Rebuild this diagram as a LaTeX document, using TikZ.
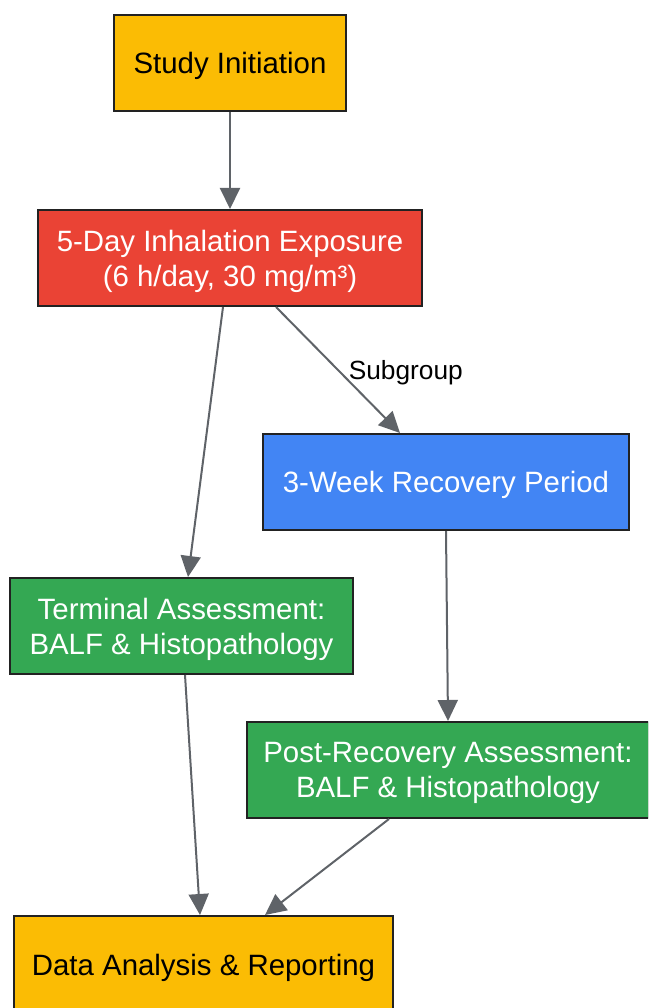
\documentclass[tikz,border=0pt]{standalone}
\usepackage{fontspec}
\setmainfont{Liberation Sans}
\usetikzlibrary{arrows.meta}
\definecolor{cyellow}{HTML}{FBBC04}
\definecolor{cred}{HTML}{EA4335}
\definecolor{cblue}{HTML}{4285F4}
\definecolor{cgreen}{HTML}{34A853}
\definecolor{cborder}{HTML}{222222}
\definecolor{cedge}{HTML}{5F6368}
\tikzset{
  box/.style={draw=cborder, line width=2pt, rectangle, inner sep=0pt,
    minimum height=96pt, align=center, text depth=0pt,
    font=\fontsize{29.4}{35}\selectfont},
  darktext/.style={text=black},
  lighttext/.style={text=white},
  conn/.style={draw=cedge, line width=2pt, -{Triangle[length=21pt,width=20pt]}},
  elabel/.style={font=\fontsize{26.3}{30}\selectfont, text=black}
}
\begin{document}
\begin{tikzpicture}[x=1pt,y=-1pt]
\useasboundingbox (0,0) rectangle (648,1008);
\clip (0,0) rectangle (648,1008);
\node[box, darktext, fill=cyellow, minimum width=232pt] (init) at (230,63) {Study Initiation};
\node[box, lighttext, fill=cred, minimum width=384pt] (expo) at (230,258) {5-Day Inhalation Exposure\\(6 h/day, 30 mg/m³)};
\node[box, lighttext, fill=cblue, minimum width=366pt] (recov) at (446,482) {3-Week Recovery Period};
\node[box, lighttext, fill=cgreen, minimum width=343pt] (term) at (181.5,626) {Terminal Assessment:\\BALF \& Histopathology};
\node[box, lighttext, fill=cgreen, minimum width=402pt] (post) at (448,770) {Post-Recovery Assessment:\\BALF \& Histopathology};
\node[box, darktext, fill=cyellow, minimum width=379pt, minimum height=98pt] (data) at (203.5,965) {Data Analysis \& Reporting};

\draw[conn] (init.south) -- (expo.north);
\draw[conn] ([xshift=46pt]expo.south) -- node[elabel, pos=0.52, right=4pt] (lbl) {Subgroup} ([xshift=-46pt]recov.north);
\draw[conn] ([xshift=-7pt]expo.south) -- ([xshift=6.5pt]term.north);
\draw[conn] (recov.south) -- (post.north);
\draw[conn] ([xshift=3.5pt]term.south) -- ([xshift=-3.5pt]data.north);
\draw[conn] ([xshift=-59pt]post.south) -- ([xshift=61.5pt]data.north);
\end{tikzpicture}
\end{document}
